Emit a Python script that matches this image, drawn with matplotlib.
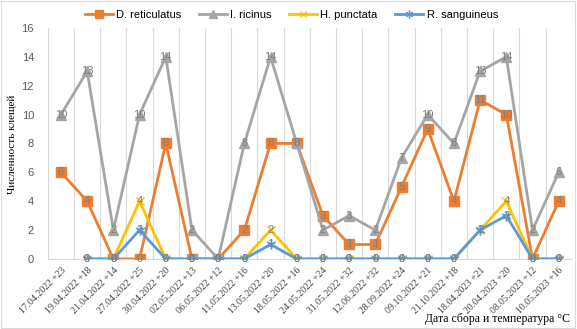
import numpy as np
import matplotlib
matplotlib.use('Agg')
import matplotlib.pyplot as plt
from matplotlib.patches import Rectangle

# dates of collection and air temperature
dates = ['17.04.2022 +23', '19.04.2022 +18', '21.04.2022 +14', '27.04.2022 +25',
         '30.04.2022 +20', '02.05.2022 +13', '06.05.2022 +12', '11.05.2022 +16',
         '13.05.2022 +20', '18.05.2022 +16', '24.05.2022 +24', '31.05.2022 +32',
         '12.06.2022 +32', '28.09.2022 +24', '09.10.2022 +21', '21.10.2022 +18',
         '18.04.2023 +21', '20.04.2023 +20', '08.05.2023 +12', '10.05.2023 +16']

d_reticulatus = [6, 4, 0, 0, 8, 0, 0, 2, 8, 8, 3, 1, 1, 5, 9, 4, 11, 10, 0, 4]
i_ricinus = [10, 13, 2, 10, 14, 2, 0, 8, 14, 8, 2, 3, 2, 7, 10, 8, 13, 14, 2, 6]
h_punctata = [None, 0, 0, 4, 0, 0, 0, 0, 2, 0, 0, 0, 0, 0, 0, 0, 2, 4, 0, 0]
r_sanguineus = [None, 0, 0, 2, 0, 0, 0, 0, 1, 0, 0, 0, 0, 0, 0, 0, 2, 3, 0, 0]

series = [
    ('D. reticulatus', d_reticulatus, '#ED7D31', 's', 7),
    ('I. ricinus', i_ricinus, '#A5A5A5', '^', 7),
    ('H. punctata', h_punctata, '#FFC000', 'x', 6),
    ('R. sanguineus', r_sanguineus, '#5B9BD5', (6, 2, 0), 7),
]

fig = plt.figure(figsize=(5.77, 3.29), dpi=100)
ax = fig.add_axes([0.083, 0.213, 0.908, 0.702])

x = np.arange(len(dates))
for name, vals, col, mk, ms in series:
    y = np.array([np.nan if v is None else v for v in vals], dtype=float)
    ax.plot(x, y, color=col, lw=2, marker=mk, markersize=ms,
            markeredgecolor=col, markerfacecolor=col, label=name, zorder=3)
    for xi, yi in zip(x, y):
        if not np.isnan(yi):
            ax.text(xi, yi, '%d' % yi, ha='center', va='center', fontsize=8,
                    color='#7F7F7F', family='Liberation Sans', zorder=4)

ax.set_xlim(-0.5, len(dates) - 0.5)
ax.set_ylim(0, 16)
ax.set_yticks(range(0, 17, 2))
ax.tick_params(axis='y', length=0, labelsize=8, labelcolor='#595959', pad=10)
ax.set_xticks(x)
ax.set_xticklabels(dates, rotation=45, ha='right', rotation_mode='anchor',
                   fontsize=7, family='Liberation Serif', color='#404040')
ax.tick_params(axis='x', length=0, pad=5)
ax.set_xticks(np.arange(-0.5, len(dates), 1), minor=True)
ax.tick_params(axis='x', which='minor', length=0)
ax.grid(True, which='minor', axis='x', color='#D9D9D9', lw=0.8)
for s in ['top', 'right', 'left']:
    ax.spines[s].set_visible(False)
ax.spines['bottom'].set_color('#D9D9D9')

for lab in ax.get_yticklabels():
    lab.set_family('Liberation Sans')

fig.text(0.022, 0.56, 'Численность клещей', rotation=90, ha='center', va='center',
         fontsize=8, family='Liberation Serif')
fig.text(0.988, 0.03, 'Дата сбора и температура °C', ha='right', va='center',
         fontsize=8.5, family='Liberation Serif')

fig.legend(loc='upper center', bbox_to_anchor=(0.505, 1.0), ncol=4, frameon=False,
           prop={'family': 'Liberation Sans', 'size': 8}, handlelength=2.5,
           columnspacing=1.6, handletextpad=0.3, markerscale=0.8)

fig.add_artist(Rectangle((0.002, 0.003), 0.995, 0.994, transform=fig.transFigure,
                         fill=False, edgecolor='#D9D9D9', lw=0.8))

fig.savefig('out.png', dpi=100)
